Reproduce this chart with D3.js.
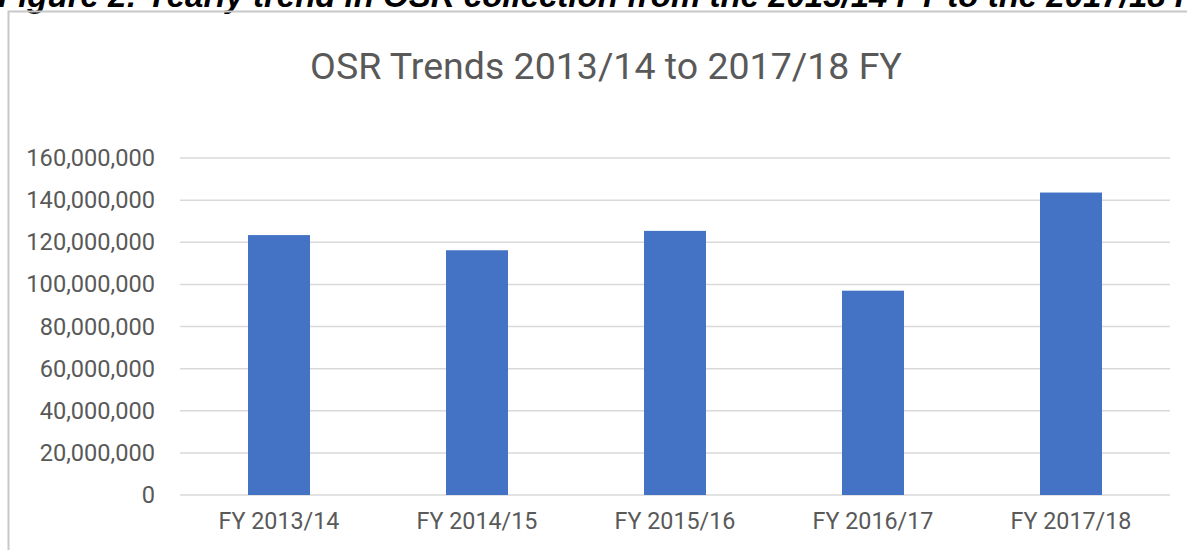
<!DOCTYPE html>
<html><head><meta charset="utf-8">
<script src="https://cdn.jsdelivr.net/npm/d3@7"></script>
<style>html,body{margin:0;padding:0;background:#fff;overflow:hidden}</style>
</head><body>
<svg id="c" width="1187" height="550"></svg>
<script>
const categories = ["FY 2013/14","FY 2014/15","FY 2015/16","FY 2016/17","FY 2017/18"];
const values = [123400000, 116200000, 125400000, 97000000, 143600000];
const yTicks = [0,20000000,40000000,60000000,80000000,100000000,120000000,140000000,160000000];
const title = "OSR Trends 2013/14 to 2017/18 FY";
const caption = "Figure 2:  Yearly trend in OSR collection from the 2013/14 FY to the  2017/18 FY";

const svg = d3.select("#c");
const m = {left:180, right:1170, top:158, bottom:495};

// caption (cropped at top as in the source)
svg.append("text").attr("x", -2).attr("y", 7)
  .attr("font-family","Liberation Sans, Arial, sans-serif")
  .attr("font-weight","bold").attr("font-style","italic")
  .attr("font-size", 33).attr("fill","#000").text(caption);

// frame
svg.append("rect").attr("x",8.5).attr("y",11.5).attr("width",1200).attr("height",600)
  .attr("fill","none").attr("stroke","#c8c8c8").attr("stroke-width",2);

const x = d3.scaleBand().domain(categories).range([m.left, m.right]).paddingInner(0.687).paddingOuter(0.3435);
const y = d3.scaleLinear().domain([0,160000000]).range([m.bottom, m.top]);

const fmt = d3.format(",");
const font = "Roboto, sans-serif";

// gridlines
svg.append("g").selectAll("line").data(yTicks).join("line")
  .attr("x1", m.left).attr("x2", m.right)
  .attr("y1", d=>y(d)).attr("y2", d=>y(d))
  .attr("stroke","#d9d9d9").attr("stroke-width",1.5);

// y labels
const ya = svg.append("g").attr("transform",`translate(${m.left},0)`)
  .call(d3.axisLeft(y).tickValues(yTicks).tickFormat(fmt).tickSize(0).tickPadding(25));
ya.select(".domain").remove();
ya.selectAll("text").attr("font-family",font).attr("font-size",23.6).attr("fill","#595959");

// bars
svg.append("g").selectAll("rect").data(values).join("rect")
  .attr("x",(d,i)=>x(categories[i])).attr("width",x.bandwidth())
  .attr("y",d=>y(d)).attr("height",d=>y(0)-y(d))
  .attr("fill","#4472C4");

// x labels
const xa = svg.append("g").attr("transform",`translate(0,${m.bottom})`)
  .call(d3.axisBottom(x).tickSize(0).tickPadding(17));
xa.select(".domain").remove();
xa.selectAll("text").attr("font-family",font).attr("font-size",23.3).attr("fill","#595959");

// title
svg.append("text").attr("x",606).attr("y",79).attr("text-anchor","middle")
  .attr("font-family",font).attr("font-size",37.5).attr("fill","#595959").text(title);
</script>
</body></html>
